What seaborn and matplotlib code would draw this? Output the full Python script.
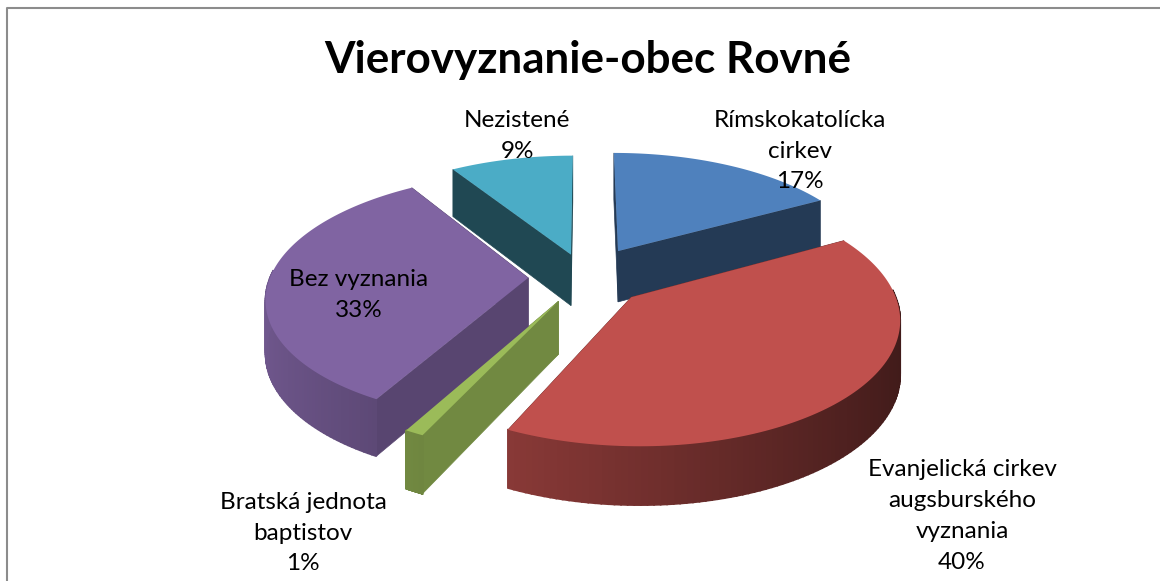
import numpy as np
import matplotlib
matplotlib.use('Agg')
import matplotlib.pyplot as plt
from matplotlib.colors import to_rgb
import seaborn as sns

title = 'Vierovyznanie-obec Rovné'
labels = ['Rímskokatolícka\ncirkev', 'Evanjelická cirkev\naugsburského\nvyznania',
          'Bratská jednota\nbaptistov', 'Bez vyznania', 'Nezistené']
values = [17, 40, 1, 33, 9]
colors = ['#4F81BD', '#C0504D', '#9BBB59', '#8064A2', '#4BACC6']
wall_shade = [0.45, 0.6, 0.73, 0.69, 0.42]
explode = [0.26, 0.24, 0.22, 0.22, 0.2]
label_pos = [(800, 151), (962, 516), (303, 533), (359, 295), (517, 136)]

sns.set_style('white')
plt.rcParams['font.family'] = ['Lato', 'DejaVu Sans']

# projection of the tilted pie onto the picture
CX, CY = 585, 277
A, B, DEPTH = 258, 120, 52
PX, PY, PZ = 0.15, 0.15, 0.1


def project(x, y, z=0.0):
    kx = 1 / (1 + PX * y)
    ky = 1 / (1 + PY * y)
    kz = 1 / (1 + PZ * y)
    return CX + A * x * kx, CY - B * y * ky + DEPTH * z * kz


def shade(col, f):
    return tuple(min(1, c * f) for c in to_rgb(col))


fig = plt.figure(figsize=(11.6, 5.81), dpi=100)
ax = fig.add_axes([0, 0, 1, 1])
ax.set_xlim(0, 1160)
ax.set_ylim(581, 0)
ax.axis('off')

# chart frame, the right and bottom sides fall outside the crop
ax.plot([6.5, 6.5, 1160], [581, 7.5, 7.5], color='#8c8c8c', lw=1.5)

fractions = np.array(values) / sum(values)
stops = 90 - 360 * np.concatenate([[0], np.cumsum(fractions)])


def draw_slice(i):
    a0, a1 = stops[i], stops[i + 1]
    mid = np.radians((a0 + a1) / 2)
    ox, oy = explode[i] * np.cos(mid), explode[i] * np.sin(mid)
    th = np.radians(np.linspace(a0, a1, 120))
    xs = ox + np.cos(th)
    ys = oy + np.sin(th)
    col = colors[i]

    # flat walls, far one first
    for t in sorted([th[0], th[-1]], key=lambda v: -(oy + np.sin(v))):
        ex, ey = ox + np.cos(t), oy + np.sin(t)
        pts = [project(ox, oy), project(ex, ey), project(ex, ey, 1), project(ox, oy, 1)]
        ax.fill(*zip(*pts), color=shade(col, wall_shade[i]), lw=0.5, zorder=2 + i / 10)

    # outer rim, light left to dark right
    for j in range(len(th) - 1):
        if np.sin(th[j]) > 0.05 and np.sin(th[j + 1]) > 0.05:
            continue
        pts = [project(xs[j], ys[j]), project(xs[j + 1], ys[j + 1]),
               project(xs[j + 1], ys[j + 1], 1), project(xs[j], ys[j], 1)]
        f = 0.60 - 0.27 * np.cos(th[j])
        ax.fill(*zip(*pts), color=shade(col, f), lw=1.2, zorder=3 + i / 10)

    # top face
    top = [project(ox, oy)] + [project(x, y) for x, y in zip(xs, ys)]
    ax.fill(*zip(*top), color=col, lw=0, zorder=4 + i / 10)


for i in [4, 0, 3, 2, 1]:
    draw_slice(i)

ax.text(588, 60, title, ha='center', va='center', fontsize=31.7, fontweight='bold', color='black', zorder=9)
for name, v, (lx, ly) in zip(labels, values, label_pos):
    ax.text(lx, ly, f'{name}\n{v}%', ha='center', va='center', fontsize=17.5, color='black', linespacing=1.58, zorder=9)

fig.savefig('out.png', dpi=100)
